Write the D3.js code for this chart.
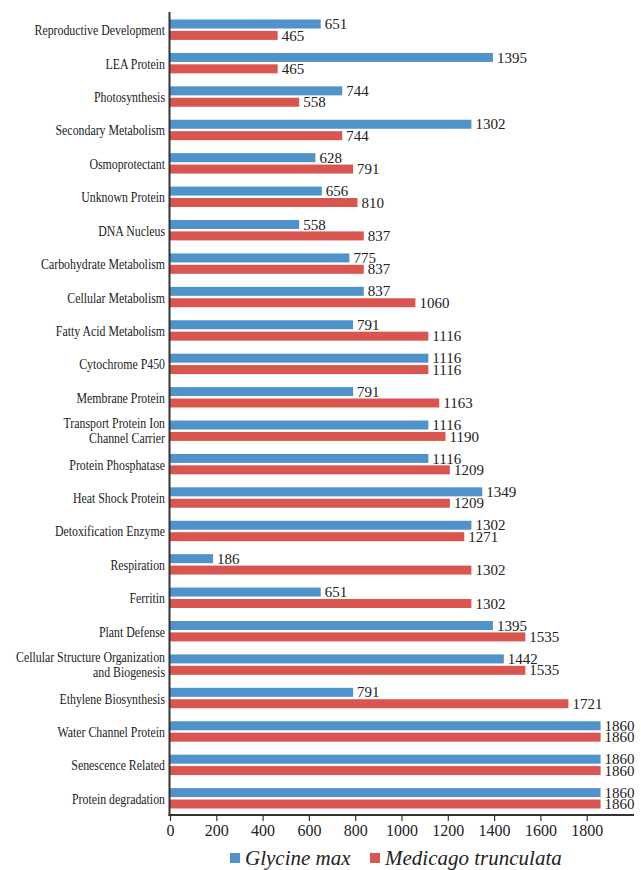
<!DOCTYPE html>
<html>
<head>
<meta charset="utf-8">
<script src="https://cdn.jsdelivr.net/npm/d3@7"></script>
<style>
  body { margin: 0; background: #fff; }
  svg text { font-family: "Liberation Serif", "Times New Roman", Times, Tinos, "DejaVu Serif", serif; fill: #222; }
</style>
</head>
<body>
<div id="chart"></div>
<script>
// categories top to bottom ("\n" = line break in label)
var categories = ["Reproductive Development", "LEA Protein", "Photosynthesis", "Secondary Metabolism",
  "Osmoprotectant", "Unknown Protein", "DNA Nucleus", "Carbohydrate Metabolism", "Cellular Metabolism",
  "Fatty Acid Metabolism", "Cytochrome P450", "Membrane Protein", "Transport Protein Ion\nChannel Carrier",
  "Protein Phosphatase", "Heat Shock Protein", "Detoxification Enzyme", "Respiration", "Ferritin",
  "Plant Defense", "Cellular Structure Organization\nand Biogenesis", "Ethylene Biosynthesis",
  "Water Channel Protein", "Senescence Related", "Protein degradation"];

var glycineMax = [651, 1395, 744, 1302, 628, 656, 558, 775, 837, 791, 1116, 791, 1116, 1116, 1349, 1302,
  186, 651, 1395, 1442, 791, 1860, 1860, 1860];
var medicagoTrunculata = [465, 465, 558, 744, 791, 810, 837, 837, 1060, 1116, 1116, 1163, 1190, 1209, 1209,
  1271, 1302, 1302, 1535, 1535, 1721, 1860, 1860, 1860];

var seriesNames = ["Glycine max", "Medicago trunculata"];
var seriesColors = ["#5093cb", "#d95550"];
var xTicks = [0, 200, 400, 600, 800, 1000, 1200, 1400, 1600, 1800];

var data = categories.map(function(c, i) {
  return { cat: c, values: [glycineMax[i], medicagoTrunculata[i]] };
});

var width = 641, height = 870;
var margin = { top: 13, left: 170, bottom: 55 };
var plotBottom = height - margin.bottom;
var serif = "'Liberation Serif', 'Times New Roman', Times, Tinos, 'DejaVu Serif', serif";

var svg = d3.select("#chart").append("svg")
  .attr("width", width)
  .attr("height", height)
  .attr("font-family", serif);

var x = d3.scaleLinear().domain([0, 1800]).range([margin.left, 586.7]);
var y = d3.scaleBand().domain(categories).range([margin.top, plotBottom]);
var barH = 9, barGap = 2.4;

// bars
var rows = svg.append("g").selectAll("g.row")
  .data(data)
  .enter().append("g")
  .attr("class", "row")
  .attr("transform", function(d) { return "translate(0," + (y(d.cat) + y.bandwidth() / 2) + ")"; });

rows.selectAll("rect")
  .data(function(d) { return d.values; })
  .enter().append("rect")
  .attr("x", x(0))
  .attr("y", function(d, i) { return i == 0 ? -barH - barGap / 2 : barGap / 2; })
  .attr("width", function(d) { return x(d) - x(0); })
  .attr("height", barH)
  .attr("fill", function(d, i) { return seriesColors[i]; });

// value labels
rows.selectAll("text.val")
  .data(function(d) { return d.values; })
  .enter().append("text")
  .attr("class", "val")
  .attr("x", function(d) { return x(d) + 4; })
  .attr("y", function(d, i) { return i == 0 ? -barH / 2 - barGap / 2 : barH / 2 + barGap / 2; })
  .attr("dy", "0.34em")
  .style("font-size", "15px")
  .text(function(d) { return d; });

// category labels (condensed look)
var catLabels = rows.append("g")
  .attr("transform", "translate(165,0) scale(0.79,1)");

catLabels.each(function(d) {
  var lines = d.cat.split("\n");
  var g = d3.select(this);
  lines.forEach(function(line, k) {
    var yy = lines.length == 1 ? 5.5 : (k == 0 ? -3 : 12.5);
    g.append("text")
      .attr("text-anchor", "end")
      .attr("y", yy)
      .style("font-size", "15px")
      .text(line);
  });
});

// y axis line
svg.append("line")
  .attr("x1", margin.left - 0.5).attr("x2", margin.left - 0.5)
  .attr("y1", margin.top - 1).attr("y2", plotBottom + 1)
  .attr("stroke", "#333").attr("stroke-width", 2);

// x axis
var xAxis = svg.append("g")
  .attr("transform", "translate(0," + plotBottom + ")")
  .call(d3.axisBottom(x).tickValues(xTicks).tickFormat(d3.format("d"))
    .tickSize(6).tickSizeOuter(0).tickPadding(4));

xAxis.attr("font-family", serif);
xAxis.select(".domain").remove();
xAxis.append("line")
  .attr("x1", margin.left - 1.5).attr("x2", 634)
  .attr("stroke", "#333").attr("stroke-width", 2);
xAxis.selectAll(".tick line").attr("stroke", "#333").attr("stroke-width", 1.2);
xAxis.selectAll(".tick text")
  .style("font-size", "16px")
  .attr("fill", "#222");

// legend
var legend = svg.append("g").attr("transform", "translate(230,865)");
var legendX = [0, 140];
seriesNames.forEach(function(name, i) {
  legend.append("rect")
    .attr("x", legendX[i]).attr("y", -12)
    .attr("width", 10).attr("height", 10)
    .attr("fill", seriesColors[i]);
  legend.append("text")
    .attr("x", legendX[i] + 15)
    .style("font-size", "21px")
    .style("font-style", "italic")
    .text(name);
});
</script>
</body>
</html>
